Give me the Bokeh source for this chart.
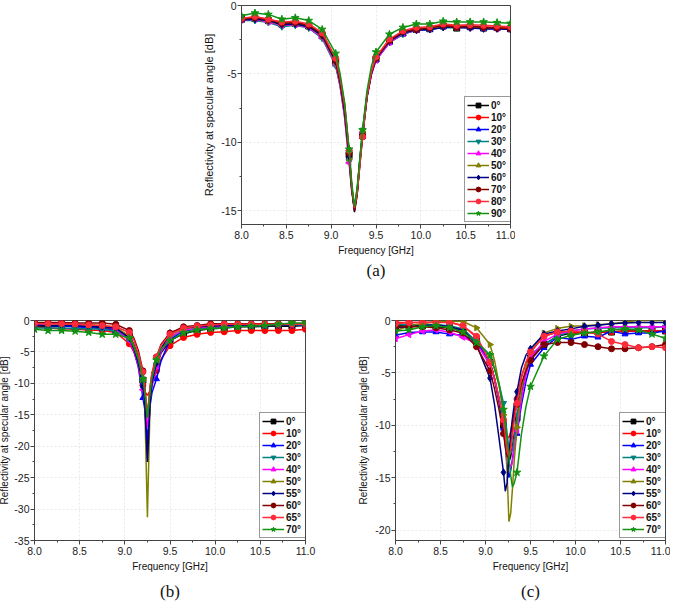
import math
from bokeh.plotting import figure
from bokeh.models import Legend, LegendItem, FixedTicker, Range1d, Spacer, NumeralTickFormatter
from bokeh.layouts import column, row
from bokeh.embed import file_html
from bokeh.resources import INLINE

FONT = "Liberation Sans"

labels_a = ["0°", "10°", "20°", "30°", "40°", "50°", "60°", "70°", "80°", "90°"]
labels_bc = ["0°", "10°", "20°", "30°", "40°", "50°", "55°", "60°", "65°", "70°"]

x_ticks = [8.0, 8.5, 9.0, 9.5, 10.0, 10.5, 11.0]
y_ticks_a = [0, -5, -10, -15]
y_ticks_b = [0, -5, -10, -15, -20, -25, -30, -35]
y_ticks_c = [0, -5, -10, -15, -20]

# ---------------- panel (a) ----------------
freq_a = [8.0, 8.15, 8.3, 8.45, 8.6, 8.75, 8.9, 9.05, 9.1, 9.15, 9.2, 9.23, 9.26, 9.29,
          9.32, 9.35, 9.4, 9.45, 9.5, 9.65, 9.8, 9.95, 10.1, 10.25, 10.4, 10.55, 10.7, 10.85, 11.0]
a_0 = [-1.0, -0.95, -1.1, -1.35, -1.3, -1.5, -2.2, -4.1, -5.5, -7.5, -10.9, -13.4, -15.1, -13.8,
       -11.4, -9.5, -6.6, -4.9, -3.9, -2.6, -2.0, -1.75, -1.7, -1.5, -1.65, -1.55, -1.65, -1.6, -1.7]
a_10 = [-0.95, -0.85, -1.0, -1.25, -1.2, -1.4, -2.0, -3.9, -5.3, -7.2, -10.6, -13.3, -14.9, -13.7,
        -11.6, -9.3, -6.5, -4.8, -3.8, -2.5, -1.9, -1.7, -1.6, -1.45, -1.5, -1.5, -1.55, -1.6, -1.65]
a_20 = [-1.05, -1.0, -1.15, -1.45, -1.35, -1.55, -2.3, -4.3, -5.8, -7.9, -11.1, -13.4, -14.9, -13.6,
        -11.3, -9.5, -6.7, -5.0, -4.0, -2.7, -2.1, -1.8, -1.75, -1.55, -1.6, -1.6, -1.7, -1.7, -1.75]
a_30 = [-1.1, -1.1, -1.25, -1.55, -1.45, -1.65, -2.4, -4.4, -5.9, -8.1, -11.4, -13.5, -14.8, -13.5,
        -11.2, -9.1, -6.5, -4.9, -3.9, -2.7, -2.1, -1.8, -1.75, -1.6, -1.65, -1.6, -1.7, -1.7, -1.7]
a_40 = [-1.05, -1.0, -1.2, -1.45, -1.4, -1.6, -2.35, -4.3, -5.9, -8.2, -11.5, -13.6, -14.9, -13.6,
        -11.4, -9.3, -6.6, -5.0, -4.0, -2.7, -2.05, -1.8, -1.7, -1.55, -1.6, -1.6, -1.65, -1.7, -1.7]
a_50 = [-1.0, -0.95, -1.15, -1.4, -1.35, -1.55, -2.25, -4.2, -5.7, -7.9, -11.2, -13.6, -14.7, -13.4,
        -11.2, -9.2, -6.5, -4.9, -3.9, -2.6, -2.0, -1.75, -1.7, -1.5, -1.6, -1.55, -1.6, -1.65, -1.7]
a_60 = [-1.05, -1.0, -1.1, -1.4, -1.35, -1.55, -2.2, -4.1, -5.6, -7.8, -11.0, -13.4, -14.9, -13.6,
        -11.4, -9.4, -6.6, -4.9, -3.9, -2.6, -2.0, -1.8, -1.75, -1.6, -1.55, -1.65, -1.7, -1.7, -1.75]
a_70 = [-1.0, -0.9, -1.05, -1.3, -1.25, -1.45, -2.1, -4.0, -5.5, -7.6, -10.8, -13.3, -15.0, -13.8,
        -11.6, -9.6, -6.7, -4.9, -3.85, -2.55, -1.9, -1.75, -1.65, -1.45, -1.6, -1.5, -1.6, -1.65, -1.7]
a_80 = [-0.95, -0.8, -1.0, -1.2, -1.15, -1.35, -2.0, -3.85, -5.3, -7.3, -10.6, -13.2, -14.8, -13.7,
        -11.7, -9.6, -6.6, -4.8, -3.75, -2.45, -1.85, -1.6, -1.55, -1.35, -1.45, -1.4, -1.45, -1.5, -1.55]
a_90 = [-0.75, -0.55, -0.65, -1.0, -0.9, -1.1, -1.75, -3.5, -5.0, -7.1, -10.5, -13.0, -14.7, -13.3,
        -11.2, -9.1, -6.2, -4.4, -3.4, -2.1, -1.6, -1.35, -1.35, -1.15, -1.2, -1.2, -1.2, -1.25, -1.3]

# ---------------- panel (b) ----------------
freq_b = [8.0, 8.15, 8.3, 8.45, 8.6, 8.75, 8.9, 9.05, 9.1, 9.15, 9.2, 9.22, 9.25, 9.28,
          9.3, 9.35, 9.4, 9.5, 9.65, 9.8, 9.95, 10.1, 10.25, 10.4, 10.55, 10.7, 10.85, 11.0]
b_0 = [-0.9, -0.9, -0.9, -0.9, -1.0, -1.1, -1.3, -2.5, -3.8, -5.8, -9.5, -12.0, -22.0, -12.5,
       -10.0, -7.5, -5.2, -3.2, -2.1, -1.6, -1.3, -1.2, -1.0, -1.0, -0.9, -0.9, -0.9, -0.8]
b_10 = [-1.0, -1.2, -1.3, -1.4, -1.5, -1.6, -1.9, -3.7, -5.0, -7.0, -10.3, -11.3, -11.9, -11.2,
        -10.2, -8.0, -6.2, -4.0, -2.7, -2.2, -1.9, -1.8, -1.6, -1.6, -1.6, -1.6, -1.6, -1.4]
b_20 = [-0.6, -0.8, -0.9, -1.0, -1.1, -1.3, -1.6, -3.0, -4.8, -7.5, -12.3, -14.0, -19.0, -13.5,
        -11.5, -9.3, -6.5, -3.0, -1.7, -1.3, -1.1, -1.0, -0.9, -0.8, -0.8, -0.7, -0.7, -0.7]
b_30 = [-1.2, -1.2, -1.2, -1.3, -1.3, -1.4, -1.7, -3.0, -4.5, -6.5, -9.8, -12.0, -15.5, -12.0,
        -10.0, -7.0, -5.0, -2.7, -1.6, -1.3, -1.1, -1.0, -0.9, -0.8, -0.8, -0.8, -0.7, -0.7]
b_40 = [-0.5, -0.5, -0.5, -0.6, -0.7, -0.9, -1.3, -3.2, -4.8, -7.2, -11.0, -13.0, -17.0, -12.5,
        -10.5, -7.3, -5.0, -2.6, -1.5, -1.2, -1.0, -0.9, -0.8, -0.7, -0.7, -0.7, -0.6, -0.6]
b_50 = [-0.4, -0.5, -0.5, -0.6, -0.7, -0.8, -1.1, -2.5, -4.0, -6.0, -9.5, -13.0, -31.3, -13.0,
        -9.5, -6.5, -4.5, -2.3, -1.3, -1.0, -0.8, -0.7, -0.6, -0.6, -0.5, -0.5, -0.5, -0.5]
b_55 = [-0.8, -0.8, -0.8, -0.8, -0.9, -1.0, -1.2, -2.8, -4.5, -6.8, -10.5, -13.0, -22.5, -13.0,
        -10.0, -6.8, -4.5, -2.0, -1.2, -1.0, -0.9, -0.8, -0.8, -0.7, -0.7, -0.7, -0.7, -0.6]
b_60 = [-0.3, -0.3, -0.3, -0.4, -0.4, -0.4, -0.6, -1.6, -2.8, -4.8, -8.0, -10.5, -15.3, -10.5,
        -8.5, -5.8, -3.8, -2.0, -1.0, -0.8, -0.5, -0.5, -0.5, -0.5, -0.5, -0.5, -0.5, -0.5]
b_65 = [-0.5, -0.5, -0.5, -0.6, -0.7, -0.8, -1.0, -1.9, -3.1, -5.2, -8.2, -10.5, -15.0, -10.5,
        -8.3, -5.8, -4.0, -2.2, -1.2, -0.9, -0.7, -0.6, -0.6, -0.6, -0.6, -0.6, -0.6, -0.6]
b_70 = [-1.4, -1.6, -1.6, -1.7, -1.9, -2.2, -2.2, -2.8, -4.2, -6.2, -9.3, -11.5, -15.5, -11.5,
        -9.2, -6.3, -4.5, -3.2, -2.0, -1.5, -1.3, -1.2, -1.0, -0.9, -0.8, -0.6, -0.4, -0.4]

# ---------------- panel (c) ----------------
freq_c = [8.0, 8.15, 8.3, 8.45, 8.6, 8.75, 8.9, 9.05, 9.1, 9.15, 9.2, 9.22, 9.24, 9.26, 9.28, 9.3,
          9.32, 9.35, 9.4, 9.45, 9.5, 9.65, 9.8, 9.95, 10.1, 10.25, 10.4, 10.55, 10.7, 10.85, 11.0]
c_0 = [-0.5, -0.4, -0.5, -0.6, -0.7, -1.0, -2.0, -4.0, -5.5, -7.5, -10.0, -11.5, -12.8, -13.5, -13.0, -12.0,
       -10.8, -9.3, -6.8, -5.0, -3.6, -2.3, -1.5, -1.2, -1.2, -1.1, -1.1, -1.0, -1.0, -1.0, -1.0]
c_10 = [-0.2, -0.2, -0.2, -0.15, -0.15, -0.5, -1.6, -4.0, -5.6, -7.5, -9.8, -10.7, -11.1, -11.2, -10.6, -9.6,
        -8.6, -7.5, -5.3, -4.0, -3.0, -1.5, -1.1, -1.2, -1.2, -1.1, -1.1, -1.0, -1.0, -1.0, -1.0]
c_20 = [-1.4, -1.15, -1.1, -1.1, -1.3, -1.4, -2.0, -4.0, -5.6, -7.8, -10.3, -12.0, -13.8, -15.0, -14.3, -13.2,
        -12.0, -10.8, -8.0, -5.8, -4.2, -2.6, -1.6, -1.8, -1.5, -1.6, -1.0, -1.3, -1.2, -1.2, -1.0]
c_30 = [-0.4, -0.4, -0.4, -0.4, -0.5, -0.8, -2.0, -3.3, -4.6, -6.0, -7.9, -9.2, -10.8, -12.2, -12.7, -12.3,
        -11.2, -9.0, -6.5, -4.7, -3.2, -2.3, -1.5, -1.0, -0.8, -0.75, -0.7, -0.7, -0.7, -0.7, -0.6]
c_40 = [-1.75, -1.35, -1.0, -0.9, -1.1, -1.6, -2.2, -4.2, -5.6, -7.3, -9.5, -11.0, -12.5, -13.6, -14.0, -13.5,
        -12.0, -10.5, -7.5, -5.2, -3.5, -2.0, -1.3, -1.0, -0.8, -0.7, -0.6, -0.6, -0.6, -0.6, -0.6]
c_50 = [-1.0, -0.5, -0.3, -0.1, -0.05, -0.1, -0.7, -2.3, -3.8, -6.0, -9.0, -11.2, -14.5, -19.2, -18.4, -16.0,
        -13.3, -10.2, -6.5, -4.5, -3.0, -1.2, -0.75, -0.55, -0.5, -0.4, -0.3, -0.15, 0.0, 0.0, 0.0]
c_55 = [-0.7, -0.6, -0.5, -0.4, -0.6, -0.9, -2.3, -5.5, -8.0, -11.2, -14.5, -16.3, -15.5, -13.0, -10.8, -9.3,
        -8.0, -6.8, -4.5, -3.3, -2.7, -1.3, -1.0, -0.8, -0.55, -0.45, -0.3, -0.25, -0.2, -0.2, -0.2]
c_60 = [-0.6, -0.6, -0.6, -0.7, -0.9, -1.2, -2.5, -4.8, -6.5, -8.5, -10.8, -12.0, -13.0, -12.8, -12.0, -10.5,
        -9.2, -8.0, -6.0, -4.8, -3.8, -2.3, -2.1, -2.1, -2.3, -2.5, -2.7, -2.7, -2.6, -2.5, -2.3]
c_65 = [-0.3, -0.2, -0.2, -0.2, -0.2, -0.5, -1.5, -4.0, -5.5, -7.5, -9.5, -11.0, -12.5, -13.0, -12.3, -11.0,
        -9.5, -7.9, -5.5, -4.0, -3.0, -1.5, -1.1, -1.0, -1.1, -1.3, -2.0, -2.3, -2.6, -2.5, -2.6]
c_70 = [-1.0, -0.9, -0.6, -0.5, -0.7, -1.1, -2.1, -3.3, -4.6, -6.2, -8.5, -9.8, -11.3, -13.0, -14.8, -15.9,
        -15.5, -14.5, -10.8, -8.2, -6.3, -3.4, -1.8, -1.4, -1.2, -1.1, -0.9, -0.8, -0.9, -1.3, -1.7]

series_a = [a_0, a_10, a_20, a_30, a_40, a_50, a_60, a_70, a_80, a_90]
series_b = [b_0, b_10, b_20, b_30, b_40, b_50, b_55, b_60, b_65, b_70]
series_c = [c_0, c_10, c_20, c_30, c_40, c_50, c_55, c_60, c_65, c_70]

colors = ["#000000", "#ff0000", "#0000ff", "#008080", "#ff00ff",
          "#808000", "#000080", "#800000", "#ff2a3a", "#129212"]
markers = ["square", "circle", "triangle", "inverted_triangle", "triangle",
           "triangle", "diamond", "circle", "circle", "star"]
marker_angles = [0, 0, 0, 0, math.pi / 2, -math.pi / 2, 0, 0, 0, 0]
marker_sizes = [6, 6, 6, 6, 6, 6, 7, 6, 6, 8]


def make_panel(freq, series, labels, y_lo, yticks, caption, frame_w, frame_h,
               mbl, mbt, mbr, mbb, ytitle_px, cap_standoff, ytitle_standoff):
    p = figure(frame_width=frame_w, frame_height=frame_h,
               x_range=Range1d(8.0, 11.0), y_range=Range1d(y_lo, 0),
               output_backend="svg", toolbar_location=None,
               min_border_left=mbl, min_border_top=mbt,
               min_border_right=mbr, min_border_bottom=mbb,
               title=caption, title_location="below",
               background_fill_color="white", border_fill_color="white")
    p.outline_line_color = "#444444"
    p.outline_line_width = 1
    p.title.align = "center"
    p.title.text_font = "Liberation Serif"
    p.title.text_font_size = "17px"
    p.title.text_font_style = "normal"
    p.title.text_color = "#111111"
    p.title.standoff = cap_standoff

    x_minor = [(a + b) / 2 for a, b in zip(x_ticks, x_ticks[1:])]
    y_minor = [(a + b) / 2 for a, b in zip(yticks, yticks[1:])]
    p.xaxis.ticker = FixedTicker(ticks=x_ticks, minor_ticks=x_minor)
    p.yaxis.ticker = FixedTicker(ticks=yticks, minor_ticks=y_minor)
    p.xaxis.formatter = NumeralTickFormatter(format="0.0")
    p.yaxis.formatter = NumeralTickFormatter(format="0")
    p.xaxis.axis_label = "Frequency [GHz]"
    p.yaxis.axis_label = "Reflectivity at specular angle [dB]"
    for ax in (p.xaxis[0], p.yaxis[0]):
        ax.axis_line_color = "#444444"
        ax.major_tick_in = 0
        ax.major_tick_out = 4
        ax.minor_tick_in = 0
        ax.minor_tick_out = 2
        ax.major_tick_line_color = "#444444"
        ax.minor_tick_line_color = "#444444"
        ax.major_label_text_font = FONT
        ax.major_label_text_font_size = "10.5px"
        ax.major_label_text_color = "#222222"
        ax.axis_label_text_font = FONT
        ax.axis_label_text_font_style = "normal"
        ax.axis_label_text_color = "#111111"
        ax.axis_label_standoff = 3
    p.yaxis.axis_label_standoff = ytitle_standoff
    p.xaxis.major_label_standoff = 2
    p.yaxis.major_label_standoff = 1
    p.xaxis.axis_label_text_font_size = "10px"
    p.yaxis.axis_label_text_font_size = ytitle_px
    p.grid.grid_line_color = "#e4e4e4"
    p.grid.grid_line_dash = "2 2"
    p.grid.grid_line_alpha = 0.8

    mk_idx = [i for i, f in enumerate(freq)
              if abs((f - 8.0) / 0.15 - round((f - 8.0) / 0.15)) < 1e-6]
    items = []
    for k, ys in enumerate(series):
        ln = p.line(freq, ys, line_color=colors[k], line_width=1.5)
        sc = p.scatter([freq[i] for i in mk_idx], [ys[i] for i in mk_idx],
                       marker=markers[k], angle=marker_angles[k], size=marker_sizes[k],
                       fill_color=colors[k], line_color=colors[k])
        items.append(LegendItem(label=labels[k], renderers=[ln, sc]))
    leg = Legend(items=items, location=(frame_w - 46, 2))
    leg.margin = 0
    leg.padding = 2
    leg.spacing = 0
    leg.border_line_color = "#333333"
    leg.border_line_width = 1
    leg.background_fill_color = "white"
    leg.background_fill_alpha = 1
    leg.label_text_font = FONT
    leg.label_text_font_size = "10px"
    leg.label_text_font_style = "bold"
    leg.label_text_color = "#111111"
    leg.label_height = 12
    leg.glyph_height = 12
    leg.glyph_width = 22
    leg.label_standoff = 2
    p.add_layout(leg)
    return p


pa = make_panel(freq_a, series_a, labels_a, -16, y_ticks_a, "(a)", 269, 219,
                45, 5, 5, 62, "11px", 0, 3)
pb = make_panel(freq_b, series_b, labels_bc, -35, y_ticks_b, "(b)", 271, 220,
                35, 34, 50, 66, "10px", 10, 1)
pc = make_panel(freq_c, series_c, labels_bc, -21, y_ticks_c, "(c)", 270, 220,
                40, 34, 5, 66, "10px", 10, 3)

layout = column(row(Spacer(width=202, height=1), pa),
                row(Spacer(width=2, height=1), pb, pc), margin=(0, 0, 0, -6))

open("out.html", "w").write(file_html(layout, INLINE))
